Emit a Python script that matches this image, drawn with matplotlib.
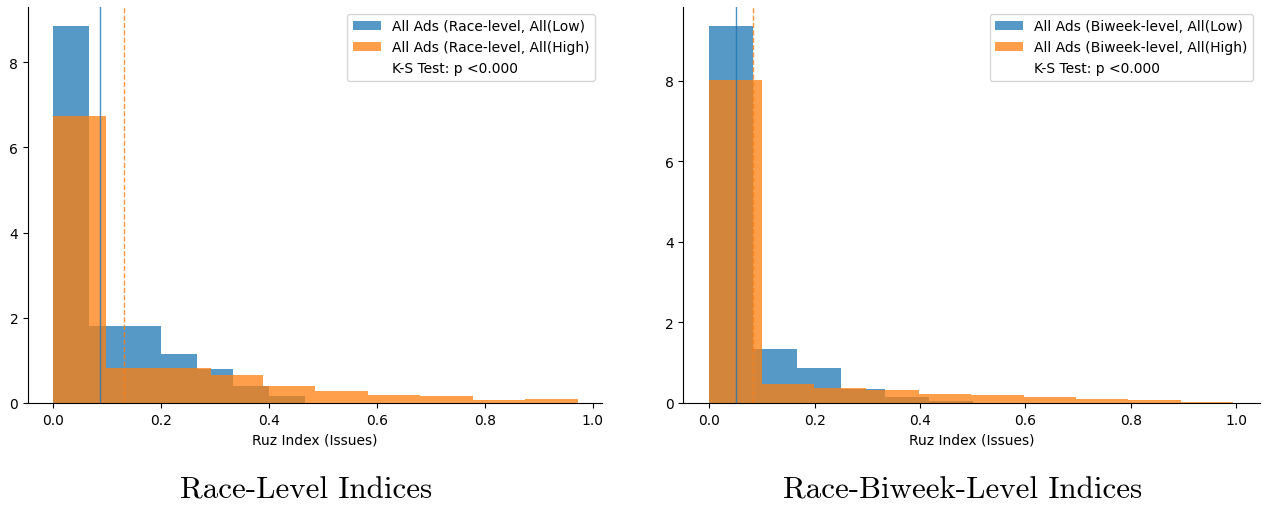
import matplotlib
matplotlib.use("Agg")
import matplotlib.pyplot as plt
import numpy as np

# ---- data (density histograms, 10 bins each) ----
race_low_range = (0.0, 0.666)
race_low_heights = [8.85, 1.81, 1.80, 1.15, 0.80, 0.40, 0.16, 0.0, 0.0, 0.01]
race_high_range = (0.0, 0.972)
race_high_heights = [6.73, 0.82, 0.82, 0.66, 0.40, 0.28, 0.19, 0.16, 0.07, 0.09]
race_low_mean = 0.086
race_high_mean = 0.130

biweek_low_range = (0.0, 0.834)
biweek_low_heights = [9.37, 1.35, 0.88, 0.36, 0.15, 0.05, 0.0, 0.0, 0.0, 0.01]
biweek_high_range = (0.0, 0.994)
biweek_high_heights = [8.02, 0.46, 0.37, 0.32, 0.23, 0.21, 0.16, 0.11, 0.075, 0.025]
biweek_low_mean = 0.051
biweek_high_mean = 0.083

ks_label = "K-S Test: p <0.000"
xlabel = "Ruz Index (Issues)"
captions = ["Race-Level Indices", "Race-Biweek-Level Indices"]


def draw_panel(ax, low_rng, low_h, high_rng, high_h, low_mean, high_mean, level):
    for rng, h, color, lab in [(low_rng, low_h, "C0", f"All Ads ({level}-level, All(Low)"),
                               (high_rng, high_h, "C1", f"All Ads ({level}-level, All(High)")]:
        edges = np.linspace(rng[0], rng[1], len(h) + 1)
        centers = (edges[:-1] + edges[1:]) / 2
        ax.hist(centers, bins=edges, weights=h, color=color, alpha=0.75, label=lab)
    ax.axvline(low_mean, color="C0", linestyle="-", linewidth=1, alpha=0.8)
    ax.axvline(high_mean, color="C1", linestyle="--", linewidth=1, alpha=0.8)
    ax.plot([], [], " ", label=ks_label)
    ax.legend(loc="upper right", fontsize=10)
    ax.set_xlabel(xlabel, fontsize=10)
    ax.set_xticks(np.arange(0, 1.01, 0.2))
    ax.spines["top"].set_visible(False)
    ax.spines["right"].set_visible(False)


fig = plt.figure(figsize=(12.64, 5.06), dpi=100)
ax1 = fig.add_axes([0.0222, 0.2016, 0.4539, 0.7826])
ax2 = fig.add_axes([0.5406, 0.2016, 0.4562, 0.7826])

draw_panel(ax1, race_low_range, race_low_heights, race_high_range, race_high_heights,
           race_low_mean, race_high_mean, "Race")
draw_panel(ax2, biweek_low_range, biweek_low_heights, biweek_high_range, biweek_high_heights,
           biweek_low_mean, biweek_high_mean, "Biweek")

ax1.set_xlim(-0.047, 1.017)
ax2.set_xlim(-0.049, 1.045)

fig.text(0.2425, 0.030, captions[0], fontfamily="cmr10", fontsize=22.3, ha="center", va="center")
fig.text(0.7615, 0.030, captions[1], fontfamily="cmr10", fontsize=22.3, ha="center", va="center")

fig.savefig("out.png", dpi=100)
